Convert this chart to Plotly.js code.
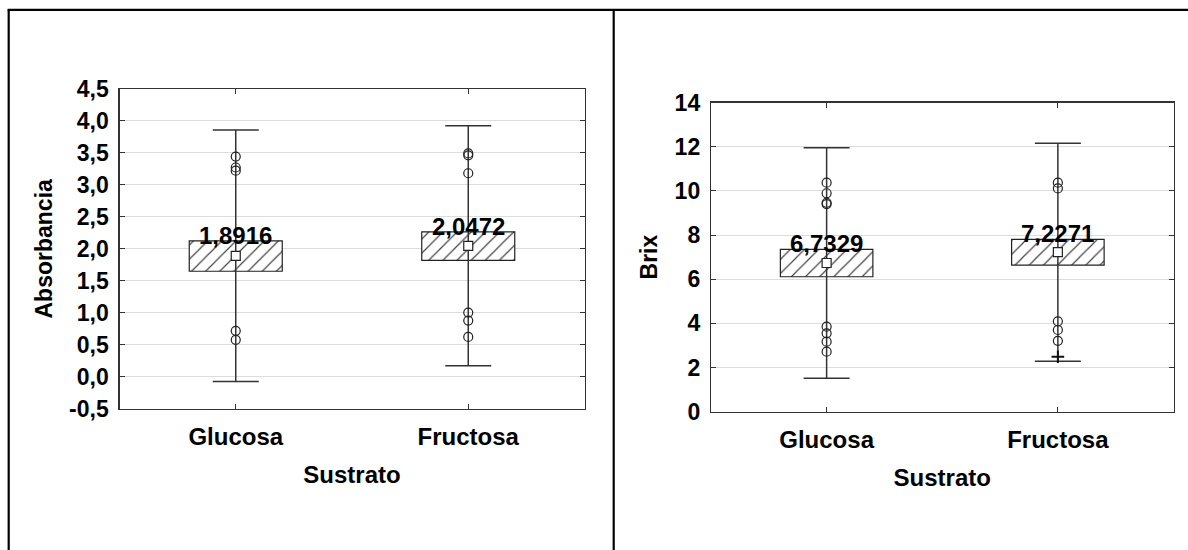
<!DOCTYPE html>
<html>
<head>
<meta charset="utf-8">
<script src="https://cdn.plot.ly/plotly-3.0.1.min.js"></script>
<style>html,body{margin:0;padding:0;background:#fff;}#chart{width:1188px;height:550px;}</style>
</head>
<body>
<div id="chart"></div>
<script>
// ---------- data ----------
const categories = ['Glucosa', 'Fructosa'];

// Absorbancia panel
const absMean = [1.8916, 2.0472];
const absBoxLow = [1.65, 1.82];
const absBoxHigh = [2.125, 2.265];
const absWhiskLow = [-0.07, 0.175];
const absWhiskHigh = [3.855, 3.92];
const absOutGlucosa = [3.44, 3.27, 3.22, 0.72, 0.58];
const absOutFructosa = [3.49, 3.46, 3.18, 1.005, 0.88, 0.625];
const absTicks = [-0.5, 0, 0.5, 1, 1.5, 2, 2.5, 3, 3.5, 4, 4.5];
const absTickLabels = ['-0,5', '0,0', '0,5', '1,0', '1,5', '2,0', '2,5', '3,0', '3,5', '4,0', '4,5'];

// Brix panel
const brixMean = [6.7329, 7.2271];
const brixBoxLow = [6.11, 6.64];
const brixBoxHigh = [7.35, 7.80];
const brixWhiskLow = [1.51, 2.28];
const brixWhiskHigh = [11.95, 12.16];
const brixOutGlucosa = [10.37, 9.89, 9.46, 9.40, 3.85, 3.55, 3.17, 2.72];
const brixOutFructosa = [10.37, 10.11, 4.09, 3.70, 3.21];
const brixExtFructosa = [2.49];
const brixTicks = [0, 2, 4, 6, 8, 10, 12, 14];
const brixTickLabels = ['0', '2', '4', '6', '8', '10', '12', '14'];

// ---------- build ----------
const FONT = '"Liberation Sans", Arial, Helvetica, sans-serif';
const fmt = v => v.toFixed(4).replace('.', ',');

function panel(xa, ya, mean, lo, hi, wl, wh, outG, outF, extF) {
  const traces = [];
  traces.push({
    type: 'bar', xaxis: xa, yaxis: ya,
    x: categories, base: lo, y: hi.map((h, i) => h - lo[i]),
    width: 0.4, hoverinfo: 'skip',
    marker: {
      color: 'white',
      line: { color: '#222', width: 1.2 },
      pattern: { shape: '/', fgcolor: '#444', bgcolor: 'white', size: 10, solidity: 0.12, fillmode: 'replace' }
    }
  });
  traces.push({
    type: 'scatter', mode: 'markers', xaxis: xa, yaxis: ya,
    x: categories, y: mean,
    marker: { symbol: 'square', size: 9, color: 'white', line: { color: '#222', width: 1.2 } },
    error_y: {
      type: 'data', symmetric: false,
      array: wh.map((w, i) => w - mean[i]),
      arrayminus: wl.map((w, i) => mean[i] - w),
      width: 23, thickness: 1.5, color: '#333'
    }
  });
  traces.push({
    type: 'scatter', mode: 'markers', xaxis: xa, yaxis: ya,
    x: outG.map(() => categories[0]), y: outG,
    marker: { symbol: 'circle-open', size: 9, color: '#222', line: { width: 1.2 } }
  });
  traces.push({
    type: 'scatter', mode: 'markers', xaxis: xa, yaxis: ya,
    x: outF.map(() => categories[1]), y: outF,
    marker: { symbol: 'circle-open', size: 9, color: '#222', line: { width: 1.2 } }
  });
  if (extF && extF.length) {
    traces.push({
      type: 'scatter', mode: 'markers', xaxis: xa, yaxis: ya,
      x: extF.map(() => categories[1]), y: extF,
      marker: { symbol: 'cross-thin-open', size: 9, color: '#111', line: { width: 2, color: '#111' } }
    });
  }
  return traces;
}

const data = [].concat(
  panel('x', 'y', absMean, absBoxLow, absBoxHigh, absWhiskLow, absWhiskHigh, absOutGlucosa, absOutFructosa, []),
  panel('x2', 'y2', brixMean, brixBoxLow, brixBoxHigh, brixWhiskLow, brixWhiskHigh, brixOutGlucosa, brixOutFructosa, brixExtFructosa)
);

const annotations = [];
categories.forEach((c, i) => {
  annotations.push({ xref: 'x', yref: 'y', x: c, y: absBoxHigh[i], text: fmt(absMean[i]), showarrow: false,
    yanchor: 'bottom', yshift: -10, font: { family: FONT, size: 24, weight: 'bold', color: '#000' } });
  annotations.push({ xref: 'x2', yref: 'y2', x: c, y: brixBoxHigh[i], text: fmt(brixMean[i]), showarrow: false,
    yanchor: 'bottom', yshift: -10, font: { family: FONT, size: 24, weight: 'bold', color: '#000' } });
});

function xAxis(domain, anchor) {
  return {
    domain: domain, anchor: anchor, type: 'category', categoryorder: 'array', categoryarray: categories,
    range: [-0.5, 1.5], showline: true, mirror: 'ticks', linecolor: '#333', linewidth: 1.2,
    ticks: 'inside', ticklen: 5, tickcolor: '#333', tickwidth: 1, showgrid: false, zeroline: false,
    ticklabelstandoff: 6,
    tickfont: { family: FONT, size: 24, weight: 'bold', color: '#000' },
    title: { text: 'Sustrato', standoff: 17, font: { family: FONT, size: 24, weight: 'bold', color: '#000' } }
  };
}
function yAxis(domain, anchor, range, tv, tt, title) {
  return {
    domain: domain, anchor: anchor, range: range, tickmode: 'array', tickvals: tv, ticktext: tt,
    showline: true, mirror: 'ticks', linecolor: '#333', linewidth: 1.2,
    ticks: 'inside', ticklen: 5, tickcolor: '#333', tickwidth: 1,
    showgrid: true, gridcolor: '#dcdcdc', gridwidth: 1, zeroline: false,
    ticklabelstandoff: 5,
    tickfont: { family: FONT, size: 23, weight: 'bold', color: '#000' },
    title: { text: title, standoff: 10, font: { family: FONT, size: 23, weight: 'bold', color: '#000' } }
  };
}

const W = 1188, H = 550;
const layout = {
  width: W, height: H, margin: { l: 0, r: 0, t: 0, b: 0 },
  paper_bgcolor: 'white', plot_bgcolor: 'white', showlegend: false, hovermode: false,
  font: { family: FONT, color: '#000' },
  xaxis: xAxis([119.5 / W, 584.5 / W], 'y'),
  yaxis: yAxis([1 - 409 / H, 1 - 88.7 / H], 'x', [-0.5, 4.5], absTicks, absTickLabels, 'Absorbancia'),
  xaxis2: xAxis([711 / W, 1173.5 / W], 'y2'),
  yaxis2: yAxis([1 - 411.7 / H, 1 - 102.5 / H], 'x2', [0, 14], brixTicks, brixTickLabels, 'Brix'),
  annotations: annotations,
  shapes: [
    { type: 'line', xref: 'paper', yref: 'paper', x0: 8.7 / W, x1: 8.7 / W, y0: -0.02, y1: 1 - 9.8 / H, line: { color: '#000', width: 2.2 } },
    { type: 'line', xref: 'paper', yref: 'paper', x0: 7.6 / W, x1: 1.02, y0: 1 - 9.8 / H, y1: 1 - 9.8 / H, line: { color: '#000', width: 2.2 } },
    { type: 'line', xref: 'paper', yref: 'paper', x0: 613.7 / W, x1: 613.7 / W, y0: -0.02, y1: 1 - 9.8 / H, line: { color: '#000', width: 2.2 } }
  ]
};

Plotly.newPlot('chart', data, layout, { displayModeBar: false, staticPlot: true });
</script>
</body>
</html>
